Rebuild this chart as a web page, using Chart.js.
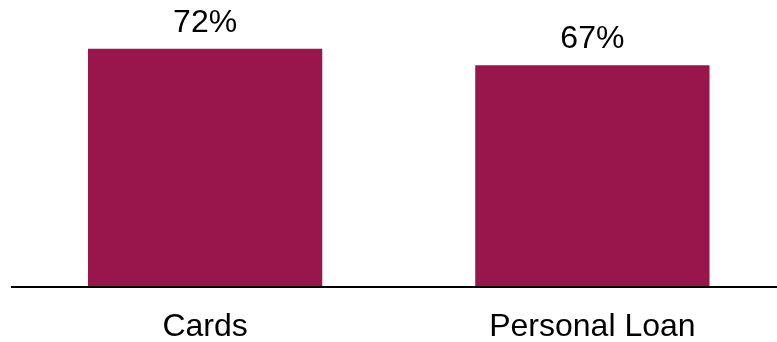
<!DOCTYPE html>
<html>
<head>
<meta charset="utf-8">
<script src="https://cdn.jsdelivr.net/npm/chart.js@4/dist/chart.umd.min.js"></script>
<style>
    html, body { margin:0; padding:0; background:#fff; overflow:hidden; }
    #wrap { width:786px; height:370px; position:relative; }
</style>
</head>
<body>
<div id="wrap"><canvas id="shareChart"></canvas></div>
<script>

// ==========================================================
// Data
// ==========================================================

const categories = ["Cards", "Personal Loan"];
const shareValues = [72, 67];
const valueLabels = ["72%", "67%"];

const barColor = "#98164B";
const fontFamily = "'Liberation Sans', Arial, sans-serif";

// ==========================================================
// Value labels above the bars
// ==========================================================

const valueLabelPlugin = {

    id:"valueLabels",

    afterDatasetsDraw(chart){

        const ctx = chart.ctx;
        const meta = chart.getDatasetMeta(0);

        ctx.save();
        ctx.font = "32px " + fontFamily;
        ctx.fillStyle = "#000";
        ctx.textAlign = "center";
        ctx.textBaseline = "alphabetic";

        meta.data.forEach((bar, i) => {
            ctx.fillText(valueLabels[i], bar.x, bar.y - 17);
        });

        ctx.restore();
    }
};

// ==========================================================
// Chart
// ==========================================================

function createShareChart(){

    const canvas = document.getElementById("shareChart");

    if (!canvas) return;

    const ctx = canvas.getContext("2d");

    new Chart(ctx,{

        type:"bar",

        data:{
            labels:categories,
            datasets:[{
                data:shareValues,
                backgroundColor:barColor,
                borderWidth:0,
                categoryPercentage:1,
                barPercentage:0.605
            }]
        },

        options:{
            responsive:true,
            maintainAspectRatio:false,
            animation:false,
            layout:{
                padding:{ left:11.5, right:0, top:22.4, bottom:3 }
            },
            plugins:{
                legend:{ display:false },
                tooltip:{ enabled:false }
            },
            scales:{
                x:{
                    grid:{ display:false, drawTicks:false },
                    border:{ display:true, color:"#000", width:2, z:1 },
                    ticks:{
                        color:"#000",
                        padding:21,
                        font:{ family:fontFamily, size:32 }
                    }
                },
                y:{
                    display:false,
                    min:0,
                    max:80
                }
            }
        },

        plugins:[valueLabelPlugin]
    });
}

createShareChart();

</script>
</body>
</html>
